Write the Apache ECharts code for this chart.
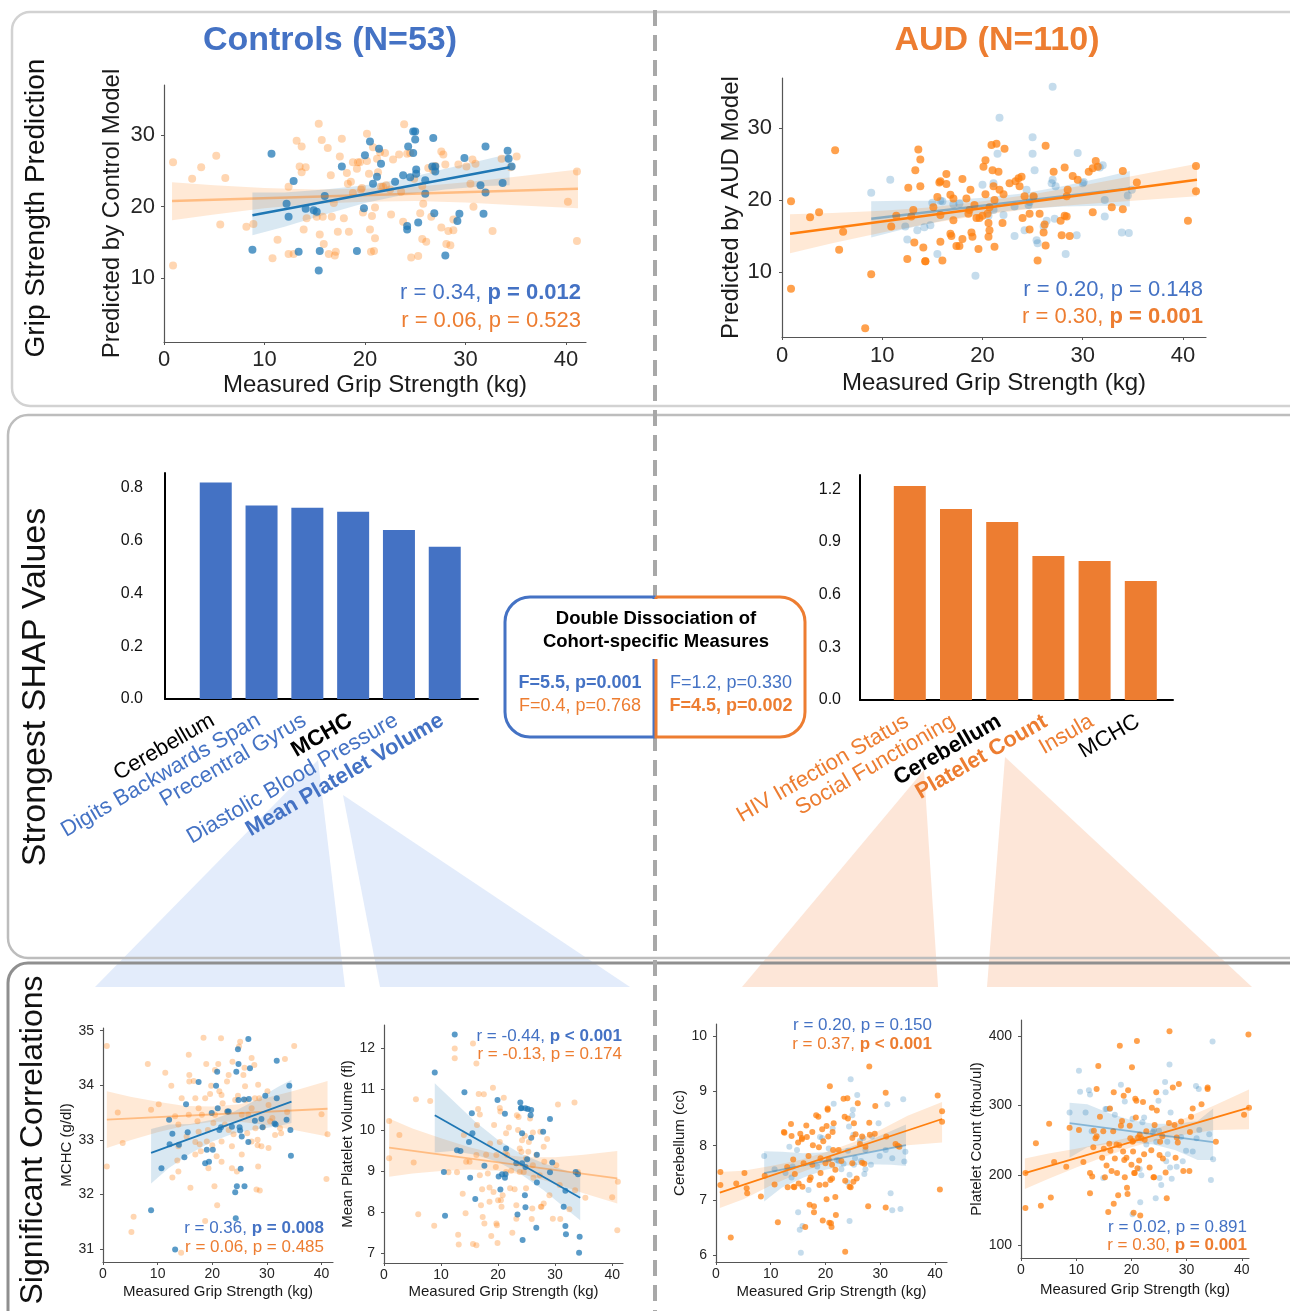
<!DOCTYPE html>
<html><head><meta charset="utf-8">
<script src="https://cdn.jsdelivr.net/npm/echarts@6/dist/echarts.min.js"></script>
<style>html,body{margin:0;padding:0;background:#fff}#c{width:1290px;height:1311px}</style>
</head><body><div id="c"></div>
<script>
// ---------------- DATA ----------------
const gripTicks = [0, 10, 20, 30, 40];
const predTicks = [10, 20, 30];
const mchcTicks = [31, 32, 33, 34, 35];
const mpvTicks = [7, 8, 9, 10, 11, 12];
const cerebTicks = [6, 7, 8, 9, 10];
const pltTicks = [100, 200, 300, 400];
const shapCtrlTicks = [0, 0.2, 0.4, 0.6, 0.8];
const shapAudTicks = [0, 0.3, 0.6, 0.9, 1.2];

// Top row: predicted grip strength
const ctrlModelCtrl = [[10.7,27.4],[8.8,14.0],[12.2,20.4],[12.4,18.6],[12.9,23.6],[13.4,13.7],[14.1,19.7],[14.9,19.5],[15.2,19.3],[15.5,13.8],[15.4,11.1],[16.0,21.5],[17.7,25.6],[19.2,13.8],[19.9,19.8],[20.0,27.2],[20.5,29.1],[20.8,23.2],[21.2,24.2],[21.4,28.1],[21.6,26.0],[23.0,23.5],[23.8,24.4],[24.3,28.4],[24.5,24.1],[24.8,27.5],[24.8,30.5],[25.0,30.5],[25.0,29.4],[25.1,25.2],[25.1,24.6],[25.3,17.8],[24.2,17.3],[24.2,16.8],[26.0,21.8],[26.0,23.7],[26.7,25.6],[26.8,29.6],[26.9,19.1],[27.0,24.9],[28.0,13.2],[29.2,18.0],[29.4,19.0],[29.9,26.8],[31.5,23.0],[31.8,19.0],[32.0,22.0],[32.0,28.4],[33.7,23.3],[34.2,27.8],[34.3,26.7],[34.6,25.6],[27.0,25.6]];
const ctrlModelAud = [[0.9,26.2],[0.9,11.8],[2.8,23.9],[3.7,25.5],[5.2,27.1],[6.1,24.0],[5.6,17.5],[8.2,17.2],[8.9,17.6],[10.8,12.8],[11.3,15.4],[12.4,13.4],[12.9,13.4],[12.4,22.8],[13.2,29.2],[13.7,28.4],[13.5,25.6],[13.7,24.8],[14.1,25.5],[13.9,16.8],[14.2,18.4],[15.4,31.6],[15.7,29.3],[15.5,16.1],[15.8,18.6],[15.9,14.8],[16.3,28.2],[16.4,13.4],[16.6,24.4],[16.7,18.6],[17.0,13.2],[17.1,13.7],[17.3,16.5],[17.5,27.0],[17.7,29.5],[17.9,18.4],[18.3,23.2],[18.4,16.5],[18.6,23.5],[18.8,26.2],[19.2,25.3],[19.3,26.2],[19.5,26.2],[19.6,22.4],[19.7,22.6],[19.8,19.2],[20.2,30.2],[20.2,26.4],[20.4,24.6],[20.5,16.8],[20.6,13.7],[20.7,18.7],[20.8,28.3],[20.9,13.8],[21.0,19.9],[21.0,15.6],[21.2,26.7],[21.3,24.8],[21.5,27.6],[21.6,22.8],[21.8,22.8],[22.0,27.5],[22.1,23.0],[22.6,18.9],[23.4,27.3],[23.6,22.1],[23.9,31.5],[24.2,27.4],[23.8,17.9],[24.6,12.9],[24.9,23.9],[25.3,13.1],[25.5,19.1],[25.7,22.9],[25.8,20.4],[25.7,15.5],[26.1,15.1],[26.3,25.4],[26.8,25.1],[27.0,25.7],[27.6,27.7],[27.8,27.3],[28.0,25.9],[27.6,17.1],[28.1,14.8],[28.3,16.6],[28.5,14.6],[28.8,16.7],[29.3,25.9],[30.5,23.2],[30.7,26.6],[30.8,20.0],[31.0,26.0],[32.7,16.6],[33.6,26.7],[35.1,27.0],[40.2,20.7],[41.1,24.9],[41.1,15.2],[34.5,25.5],[16.9,20.5],[18.8,21.9],[22.8,26.6],[24.5,27.5],[26.6,18.6],[28.8,18.2],[30.1,25.6],[15.2,18.6],[18.2,24.7],[22.5,22.4]];
const audModelCtrl = [[8.9,21.0],[10.8,22.8],[12.3,16.3],[12.5,14.5],[13.5,15.8],[14.2,16.2],[15.0,19.6],[15.5,12.5],[15.8,19.9],[16.0,19.8],[17.7,19.5],[20.0,22.1],[21.1,22.3],[21.5,26.4],[21.7,31.4],[21.1,18.6],[22.1,17.9],[23.2,15.0],[24.2,15.8],[24.4,21.4],[24.6,19.3],[24.7,19.7],[25.1,20.4],[25.0,26.4],[25.0,28.7],[25.2,24.1],[25.4,14.4],[25.5,14.0],[26.4,17.1],[26.9,22.3],[27.0,22.8],[27.0,35.7],[27.2,17.4],[28.3,12.5],[29.4,15.1],[29.5,26.5],[30.1,22.5],[31.7,24.5],[32.0,24.8],[32.2,20.0],[32.2,17.7],[33.9,15.5],[34.5,20.6],[34.6,15.4],[34.9,21.4],[19.3,9.5],[23.2,19.1],[26.1,16.3],[17.1,19.4],[14.8,16.5],[20.6,17.8],[27.3,21.9],[30.0,22.3]];
const audModelAud = [[0.9,19.8],[0.9,7.7],[2.8,17.6],[3.7,18.3],[5.3,26.9],[5.7,13.1],[6.1,15.6],[8.3,2.2],[8.9,9.7],[10.9,16.3],[11.4,17.8],[12.5,11.8],[12.6,21.7],[12.9,17.7],[13.2,14.1],[13.3,24.1],[13.6,27.0],[13.8,25.6],[13.8,21.9],[14.1,13.4],[14.3,11.5],[14.3,11.5],[15.1,19.0],[15.5,20.4],[15.7,22.4],[15.8,22.6],[15.8,17.9],[15.8,14.2],[16.0,11.6],[16.4,22.2],[16.4,23.6],[16.8,20.7],[16.8,15.3],[16.9,15.0],[17.1,20.2],[17.4,13.6],[17.7,13.6],[18.0,14.6],[18.0,22.9],[18.4,20.2],[18.6,18.1],[18.8,21.4],[18.9,15.5],[19.0,14.9],[19.2,19.3],[19.4,17.5],[19.6,13.2],[19.7,17.5],[20.0,17.8],[20.1,24.6],[20.3,25.5],[20.3,20.8],[20.5,18.1],[20.6,14.9],[20.6,16.8],[20.7,19.0],[20.9,27.6],[21.0,24.1],[21.1,21.9],[21.2,20.0],[21.2,13.5],[21.4,27.8],[21.6,23.9],[21.7,21.4],[22.0,16.8],[22.1,20.8],[22.2,27.1],[22.7,22.3],[23.3,22.6],[23.6,23.0],[23.7,21.9],[23.9,23.2],[24.0,17.5],[24.2,20.5],[24.7,15.9],[24.7,18.1],[25.5,11.6],[25.7,18.1],[26.1,15.5],[26.2,16.6],[26.3,27.5],[26.3,13.7],[27.1,23.9],[27.8,17.1],[27.9,15.1],[28.2,24.5],[28.4,17.7],[28.5,21.4],[28.7,15.0],[29.0,23.3],[29.5,22.8],[30.6,23.9],[31.0,18.3],[31.0,24.4],[31.3,25.4],[32.9,19.0],[34.0,18.7],[34.0,24.0],[35.4,22.4],[40.5,17.1],[41.3,24.7],[41.3,21.2],[28.2,17.8],[28.4,20.5],[20.7,15.8],[18.7,18.6],[25.1,20.5],[13.1,18.6],[17.1,17.2],[31.5,24.6]];
// regression fits [x, y] end points and confidence bands [x, low, high]
const ctrlModelCtrlFit = [[8.8,18.8],[34.4,25.5]];
const ctrlModelAudFit = [[0.8,20.8],[41.2,22.5]];
const ctrlModelCtrlBand = [[8.8,16.0,22.0],[12,17.2,22.0],[16,18.9,22.4],[20,20.5,23.0],[24,21.7,23.9],[28,22.4,25.3],[32,22.9,26.6],[34.4,23.0,27.4]];
const ctrlModelAudBand = [[0.8,18.1,23.4],[5,18.9,23.0],[10,19.8,22.6],[15,20.4,22.4],[20,20.7,22.5],[25,20.8,22.8],[30,20.6,23.4],[35,20.2,24.2],[41.2,19.8,25.2]];
const audModelAudFit = [[0.8,15.3],[41.4,22.8]];
const audModelCtrlFit = [[8.9,17.4],[34.7,21.6]];
const audModelAudBand = [[0.8,12.6,18.0],[5,14.0,18.2],[10,15.5,18.5],[15,16.8,19.0],[20,17.9,19.8],[25,18.8,20.8],[30,19.4,22.0],[35,19.9,23.3],[41.4,20.5,25.0]];
const audModelCtrlBand = [[8.9,14.8,19.8],[12,15.9,19.9],[16,17.1,19.9],[20,18.1,20.3],[24,18.7,20.9],[28,19.1,21.9],[32,19.2,23.1],[34.7,19.1,24.0]];

// Middle row: SHAP values
const shapCtrlLabels = ['Cerebellum', 'Digits Backwards Span', 'Precentral Gyrus', 'MCHC', 'Diastolic Blood Pressure', 'Mean Platelet Volume'];
const shapCtrlValues = [0.821, 0.734, 0.725, 0.710, 0.641, 0.577];
const shapAudLabels = ['HIV Infection Status', 'Social Functioning', 'Cerebellum', 'Platelet Count', 'Insula', 'MCHC'];
const shapAudValues = [1.219, 1.088, 1.014, 0.820, 0.792, 0.678];

// Bottom row: significant correlations
const mchcCtrl = [[8.8,31.71],[10.7,32.48],[12.1,33.37],[12.7,33.11],[12.2,32.92],[13.9,32.91],[14.9,32.68],[15.2,33.65],[15.5,33.14],[17.5,34.06],[18.7,32.57],[19.4,32.60],[20.1,32.82],[20.7,33.99],[20.9,34.25],[21.0,33.58],[21.3,33.18],[21.6,33.23],[23.0,33.52],[23.6,33.24],[24.2,32.04],[24.5,32.15],[24.3,31.56],[24.4,34.25],[24.7,34.66],[24.8,34.39],[24.8,33.73],[25.0,33.23],[25.1,33.17],[25.2,32.47],[25.4,33.06],[25.9,32.15],[26.6,34.85],[26.6,32.96],[26.7,33.75],[26.9,34.31],[27.8,33.35],[29.0,33.38],[29.2,33.23],[29.7,33.81],[31.8,34.45],[31.8,33.76],[31.4,33.30],[31.6,33.28],[33.6,33.37],[34.1,33.99],[34.3,33.18],[34.4,32.71],[13.2,30.99],[25.8,33.74],[22.8,33.52],[19.9,33.49],[19.0,32.82]];
const mchcAud = [[0.7,34.72],[0.7,32.51],[2.7,33.50],[3.6,32.94],[5.2,31.31],[5.6,31.59],[8.2,34.39],[8.8,33.55],[10.2,33.65],[11.4,34.23],[12.5,33.99],[12.7,32.31],[13.2,33.43],[13.6,32.62],[13.8,32.88],[14.3,30.93],[13.8,33.28],[15.3,33.06],[15.7,34.56],[15.8,34.19],[15.8,34.07],[16.0,32.12],[16.6,34.08],[16.9,32.73],[16.9,32.96],[17.3,33.34],[17.5,33.15],[17.7,32.92],[17.9,32.79],[18.4,34.87],[18.7,33.76],[18.9,34.39],[19.2,33.18],[19.6,33.84],[19.8,33.99],[20.0,32.90],[20.2,33.31],[20.4,32.15],[20.5,34.28],[20.8,32.70],[20.9,31.80],[21.1,34.39],[21.3,33.89],[21.6,34.86],[21.7,33.82],[21.9,33.67],[22.3,33.28],[22.7,33.52],[23.0,33.18],[23.6,32.88],[23.7,34.43],[23.9,33.10],[24.2,33.73],[24.7,33.81],[24.9,34.71],[25.1,34.80],[25.4,33.46],[25.7,34.19],[26.0,33.98],[25.9,34.32],[26.1,33.73],[26.4,33.12],[26.6,33.46],[27.2,34.50],[27.7,34.37],[27.9,33.21],[28.1,32.09],[28.3,33.00],[28.3,32.90],[28.4,32.51],[28.6,33.76],[28.7,32.07],[29.0,32.88],[29.3,33.23],[30.1,33.89],[30.6,33.34],[31.0,33.40],[32.4,33.21],[32.6,33.12],[33.3,34.48],[33.7,33.51],[35.0,34.72],[40.0,33.47],[40.9,32.28],[41.1,33.10],[20.5,33.46],[17.5,33.58],[19.0,32.97],[22.7,34.07],[27.2,33.58],[30.3,33.64],[21.7,32.60],[14.4,33.76],[25.4,32.73],[28.4,34.01],[16.9,33.76],[24.5,32.42],[13.8,32.42],[19.3,32.48],[23.6,32.48],[27.2,32.97],[30.3,32.85],[21.7,32.97],[18.1,33.46],[27.8,33.76],[31.5,33.09],[23.0,34.19],[15.7,33.46],[18.7,31.51]];
const mchcCtrlFit = [[8.8,32.76],[34.5,33.70]];
const mchcAudFit = [[0.7,33.37],[41.1,33.57]];
const mchcCtrlBand = [[8.8,32.2,33.2],[12,32.48,33.28],[16,32.75,33.29],[20,32.97,33.37],[24,33.12,33.52],[28,33.19,33.73],[32,33.25,33.97],[34.5,33.31,34.1]];
const mchcAudBand = [[0.7,32.85,33.89],[5,32.99,33.79],[10,33.14,33.70],[15,33.26,33.62],[20,33.33,33.61],[25,33.33,33.65],[30,33.27,33.77],[35,33.18,33.9],[41.1,33.06,34.08]];

const mpvCtrl = [[12.4,12.34],[8.9,11.41],[10.5,8.99],[10.7,7.92],[12.8,9.52],[13.4,9.50],[14.1,10.93],[14.9,9.72],[15.1,8.85],[15.4,10.42],[15.5,9.93],[16.0,8.33],[17.6,9.14],[19.9,10.74],[20.1,8.88],[20.4,8.56],[20.7,8.93],[21.2,10.41],[21.3,8.93],[21.2,8.85],[23.9,10.68],[24.1,10.55],[24.2,9.93],[24.0,10.54],[24.2,9.20],[24.7,8.42],[24.8,8.13],[24.8,9.11],[25.1,9.30],[25.2,10.52],[25.7,10.37],[25.8,9.82],[24.8,10.54],[26.8,9.41],[26.8,8.73],[26.7,7.63],[27.9,9.97],[29.1,10.28],[29.5,9.22],[29.1,8.98],[31.5,8.14],[31.8,8.53],[31.8,7.67],[31.9,7.47],[33.6,8.99],[34.0,8.93],[34.3,7.41],[34.2,7.02],[23.4,7.95],[24.3,7.33],[25.8,10.50],[21.4,9.56],[23.2,9.20]];
const mpvAud = [[0.9,10.23],[0.9,9.32],[2.7,9.89],[5.2,9.22],[5.6,10.76],[6.0,7.96],[8.1,10.72],[8.8,7.68],[11.3,8.98],[12.8,8.98],[13.0,7.46],[13.1,7.22],[12.4,12.0],[12.4,11.76],[13.8,8.46],[14.0,9.89],[14.3,7.98],[15.0,9.24],[15.6,7.23],[16.2,7.20],[16.2,9.40],[16.3,10.13],[16.5,10.52],[16.6,10.89],[16.8,10.39],[17.0,8.18],[17.2,8.57],[17.5,10.88],[17.3,7.89],[17.6,7.73],[17.9,9.41],[18.2,8.95],[18.5,8.61],[18.6,9.68],[18.8,7.43],[19.1,11.04],[19.2,8.50],[19.3,10.13],[19.6,9.11],[19.7,7.73],[19.8,7.69],[19.9,7.26],[20.0,8.30],[20.3,10.55],[20.4,10.46],[20.5,8.30],[20.6,8.14],[20.8,8.42],[21.0,10.80],[21.3,9.46],[21.4,9.93],[21.6,9.40],[21.9,10.07],[22.3,9.02],[22.1,8.59],[22.5,7.51],[22.9,8.57],[23.2,8.18],[23.3,10.37],[23.5,10.01],[23.6,10.33],[23.8,8.99],[24.1,9.48],[24.2,9.76],[24.5,8.99],[24.7,9.87],[24.9,9.32],[25.3,9.48],[25.4,9.72],[25.6,10.29],[25.9,7.84],[26.0,8.10],[26.1,9.95],[26.2,8.85],[27.4,9.97],[27.5,8.14],[27.6,8.14],[28.0,8.22],[28.0,9.60],[28.1,9.24],[28.6,9.79],[29.6,7.85],[30.5,10.63],[30.8,8.67],[30.9,7.84],[32.5,8.08],[33.4,10.68],[33.5,8.54],[34.0,8.99],[35.3,8.36],[40.0,8.37],[41.0,8.75],[40.9,7.57],[16.2,11.63],[15.6,12.12],[19.7,9.40],[23.8,9.56],[26.7,9.40],[21.4,8.99],[23.2,7.85],[18.5,8.26],[26.1,9.15],[29.0,8.42],[14.4,9.24],[16.8,8.91],[24.9,8.59],[27.3,8.91],[30.2,9.15],[20.3,9.72]];
const mpvCtrlFit = [[8.9,10.37],[34.4,8.36]];
const mpvAudFit = [[0.9,9.58],[40.9,8.83]];
const mpvCtrlBand = [[8.9,9.46,11.15],[12,9.5,10.74],[16,9.41,10.21],[20,9.23,9.77],[24,8.93,9.43],[28,8.54,9.2],[32,8.08,9.02],[34.4,7.81,8.91]];
const mpvAudBand = [[0.9,8.87,10.29],[5,8.95,10.05],[10,9.01,9.81],[15,9.05,9.59],[20,9.02,9.42],[25,8.91,9.35],[30,8.71,9.35],[35,8.47,9.41],[40.9,8.22,9.5]];

const cerebCtrl = [[8.8,7.81],[10.7,7.57],[12.7,7.50],[13.4,7.98],[13.8,7.42],[14.0,7.62],[15.0,6.78],[15.3,6.46],[15.8,6.53],[16.9,7.19],[19.0,8.16],[19.4,8.14],[20.6,7.95],[21.3,8.32],[21.5,8.77],[22.1,7.74],[22.4,7.72],[22.9,7.57],[23.3,7.67],[24.0,7.33],[24.1,7.91],[24.3,8.35],[24.4,6.62],[24.4,7.47],[24.6,9.22],[24.9,8.56],[25.0,8.66],[25.1,8.20],[25.2,7.65],[25.4,7.77],[25.8,8.93],[26.3,8.09],[26.5,7.72],[26.9,8.14],[27.1,7.48],[27.3,7.57],[28.3,7.65],[29.7,8.41],[29.9,7.81],[31.3,8.76],[31.9,7.13],[32.2,7.77],[32.2,6.82],[33.7,6.84],[34.2,8.85],[34.4,7.71],[34.6,7.89],[14.8,7.92],[15.5,6.04],[18.5,7.62],[27.3,7.92],[31.0,7.92],[28.5,8.17]];
const cerebAud = [[0.8,7.52],[0.8,7.28],[2.7,6.32],[3.7,7.31],[5.2,7.50],[5.7,7.13],[5.6,7.22],[8.2,7.07],[8.9,7.45],[10.7,7.29],[11.3,6.60],[12.4,8.25],[12.5,8.24],[13.0,7.61],[13.1,7.24],[13.7,8.40],[13.8,8.18],[14.1,7.75],[14.3,7.24],[14.4,7.48],[15.0,8.06],[15.1,7.31],[15.4,8.22],[15.7,8.14],[15.7,8.12],[15.8,7.25],[16.0,7.68],[16.3,6.51],[16.5,8.37],[16.6,8.16],[16.9,7.81],[17.1,7.37],[17.1,6.92],[17.3,7.42],[17.6,8.25],[17.7,8.01],[17.9,6.78],[17.9,6.89],[18.3,8.56],[18.7,8.53],[18.8,7.97],[18.9,7.28],[19.1,7.77],[19.1,7.50],[19.4,8.30],[19.5,6.63],[19.6,8.08],[20.0,7.29],[20.2,8.36],[20.2,7.02],[20.4,8.66],[20.4,8.68],[20.5,8.17],[20.6,7.75],[20.7,6.59],[20.8,9.09],[20.9,7.37],[21.0,6.58],[21.1,6.51],[21.2,7.65],[21.2,7.40],[21.3,8.25],[21.4,7.92],[21.5,8.41],[21.8,7.06],[21.9,6.73],[22.9,7.72],[23.3,8.86],[23.5,8.53],[23.6,7.36],[24.0,8.87],[24.1,8.50],[24.4,7.25],[24.6,7.24],[24.9,8.14],[25.1,7.34],[25.2,8.41],[25.5,8.21],[25.7,7.40],[25.9,8.78],[26.3,8.03],[26.7,7.69],[27.1,7.67],[27.8,6.89],[28.0,8.42],[28.1,8.20],[29.0,8.22],[29.1,8.73],[31.0,8.97],[31.0,6.87],[31.1,8.17],[32.8,8.03],[33.2,8.00],[33.5,7.98],[40.9,7.20],[40.5,8.92],[41.3,8.63],[41.3,8.44],[24.9,7.68],[22.4,7.92],[20.0,7.68],[17.6,7.65],[23.6,6.06],[28.0,9.45],[26.7,8.17],[27.3,7.98],[14.2,7.25],[21.8,7.56]];
const cerebAudFit = [[0.7,7.14],[41.3,8.49]];
const cerebCtrlFit = [[8.8,7.50],[34.7,8.01]];
const cerebAudBand = [[0.7,6.86,7.52],[5,7.02,7.54],[10,7.27,7.63],[15,7.49,7.73],[20,7.68,7.88],[25,7.82,8.06],[30,7.93,8.29],[35,8.01,8.55],[41.3,8.06,8.8]];
const cerebCtrlBand = [[8.8,6.98,7.9],[12,7.23,7.89],[16,7.42,7.86],[20,7.56,7.88],[24,7.64,7.96],[28,7.66,8.1],[32,7.65,8.27],[34.7,7.63,8.39]];

const pltCtrl = [[8.8,290],[10.5,350],[10.7,320],[11.7,290],[12.3,322],[12.5,316],[12.8,263],[14.9,196],[15.3,295],[15.5,295],[16.1,295],[18.1,330],[18.8,306],[20.2,281],[20.2,144],[21.5,209],[21.6,161],[21.8,200],[22.0,276],[22.3,283],[24.1,265],[24.4,167],[24.5,248],[24.9,307],[25.0,264],[25.1,196],[25.4,186],[26.1,334],[26.2,319],[26.5,248],[26.6,230],[26.9,359],[27.0,211],[27.1,290],[27.3,195],[28.2,212],[29.0,255],[29.3,220],[29.9,235],[31.7,328],[31.8,253],[32.2,324],[32.3,265],[34.1,259],[34.4,193],[34.7,392],[34.8,223],[32.0,431],[23.9,262],[22.7,244],[26.3,220],[31.1,234],[17.0,287]];
const pltAud = [[0.8,203],[0.8,153],[2.7,246],[3.6,156],[5.1,274],[5.4,168],[6.0,219],[8.2,212],[8.8,268],[10.5,265],[11.3,219],[12.5,174],[12.5,203],[12.9,198],[13.1,240],[13.2,264],[13.5,253],[13.7,324],[13.7,256],[14.0,357],[14.3,284],[14.7,225],[14.9,263],[15.0,238],[15.2,197],[15.5,214],[15.8,147],[16.0,245],[16.2,235],[16.4,206],[16.7,263],[16.8,159],[16.8,319],[17.0,224],[17.3,244],[17.4,203],[17.6,171],[17.8,243],[17.9,386],[18.1,271],[18.3,278],[18.5,234],[18.6,314],[18.7,222],[18.8,197],[19.1,225],[19.2,182],[19.3,173],[19.4,322],[19.7,271],[19.8,253],[20.0,215],[20.1,355],[20.2,248],[20.3,249],[20.4,146],[20.5,203],[20.6,203],[20.7,310],[20.8,283],[20.9,307],[21.0,393],[21.1,210],[21.2,254],[21.4,221],[21.5,258],[21.6,142],[21.8,253],[22.1,305],[22.3,230],[22.4,251],[23.3,211],[23.6,236],[23.7,297],[24.0,197],[24.1,197],[24.2,272],[24.5,319],[24.6,293],[25.2,248],[25.6,256],[26.2,204],[26.4,167],[26.9,407],[26.8,275],[27.5,326],[27.8,272],[28.0,225],[28.2,254],[28.4,247],[28.6,331],[29.0,277],[29.4,206],[30.5,206],[30.6,262],[30.8,284],[31.1,296],[32.7,302],[33.8,324],[33.8,326],[35.3,248],[40.4,287],[41.2,402],[41.3,297],[25.1,229],[20.3,234],[16.1,296],[22.7,263],[25.7,224]];
const pltAudFit = [[0.7,202.9],[41.3,297.0]];
const pltCtrlFit = [[8.8,274.7],[34.8,247.4]];
const pltAudBand = [[0.7,180,224],[5,195,231],[10,211,238],[15,226,246],[20,240,255],[25,251,268],[30,259,283],[35,265,300],[41.3,266,323]];
const pltCtrlBand = [[8.8,225,304],[12,240,302],[16,245,289],[20,247,279],[24,244,274],[28,236,274],[32,222,278],[34.8,222,296]];

// ---------------- STYLE ----------------
const FONT = "'Liberation Sans', Arial, Helvetica, sans-serif";
const TBLUE = '#4472C4', TORANGE = '#ED7D31';
const C = {
  blueFull: 'rgba(31,119,180,0.92)', orangeFull: 'rgba(255,127,14,0.92)',
  blueLight: 'rgba(31,119,180,0.32)', orangeLight: 'rgba(255,127,14,0.40)',
  blueBand: 'rgba(31,119,180,0.17)', orangeBand: 'rgba(255,127,14,0.17)',
  blueLineLight: 'rgba(31,119,180,0.45)', orangeLineLight: 'rgba(255,127,14,0.42)',
  blueLine: '#1f77b4', orangeLine: '#ff7f0e'
};

function scatterX(gi, max, fs, margin, nfs, gap) {
  return { type: 'value', gridIndex: gi, min: 0, max: max,
    name: 'Measured Grip Strength (kg)', nameLocation: 'middle', nameGap: gap,
    nameTextStyle: { fontSize: nfs, color: '#1a1a1a', fontFamily: FONT },
    axisLine: { show: true, onZero: false, lineStyle: { color: '#555', width: 1.2 } },
    axisTick: { show: true, length: 3, customValues: gripTicks, lineStyle: { color: '#555' } },
    axisLabel: { customValues: gripTicks, fontSize: fs, color: '#262626', margin: margin, fontFamily: FONT },
    splitLine: { show: false } };
}
function scatterY(gi, min, max, ticks, name, fs, margin, nfs, gap) {
  return { type: 'value', gridIndex: gi, min: min, max: max,
    name: name, nameLocation: 'middle', nameGap: gap,
    nameTextStyle: { fontSize: nfs, color: '#1a1a1a', fontFamily: FONT },
    axisLine: { show: true, onZero: false, lineStyle: { color: '#555', width: 1.2 } },
    axisTick: { show: true, length: 3, customValues: ticks, lineStyle: { color: '#555' } },
    axisLabel: { customValues: ticks, fontSize: fs, color: '#262626', margin: margin, fontFamily: FONT },
    splitLine: { show: false } };
}
function bandSeries(ai, band, color) {
  return { type: 'custom', xAxisIndex: ai, yAxisIndex: ai, silent: true,
    data: band, encode: { x: 0, y: 1 },
    renderItem: function (params, api) {
      if (params.dataIndex !== 0) return null;
      const up = band.map(r => api.coord([r[0], r[2]]));
      const lo = band.slice().reverse().map(r => api.coord([r[0], r[1]]));
      return { type: 'polygon', shape: { points: up.concat(lo) }, style: { fill: color } };
    } };
}
function pts(ai, data, color, size) {
  return { type: 'scatter', xAxisIndex: ai, yAxisIndex: ai, data: data, symbolSize: size,
    itemStyle: { color: color }, silent: true };
}
function fitLine(ai, data, color, w) {
  return { type: 'line', xAxisIndex: ai, yAxisIndex: ai, data: data, showSymbol: false,
    lineStyle: { color: color, width: w }, silent: true };
}
function plot(ai, back, front, size, lw) {
  return [
    pts(ai, back.pts, back.pc, size), bandSeries(ai, back.band, back.bc), fitLine(ai, back.fit, back.lc, lw),
    pts(ai, front.pts, front.pc, size), bandSeries(ai, front.band, front.bc), fitLine(ai, front.fit, front.lc, lw)
  ];
}
const ctrlBack = (p, f, b) => ({ pts: p, fit: f, band: b, pc: C.blueLight, bc: C.blueBand, lc: C.blueLineLight });
const ctrlFront = (p, f, b) => ({ pts: p, fit: f, band: b, pc: C.blueFull, bc: C.blueBand, lc: C.blueLine });
const audBack = (p, f, b) => ({ pts: p, fit: f, band: b, pc: C.orangeLight, bc: C.orangeBand, lc: C.orangeLineLight });
const audFront = (p, f, b) => ({ pts: p, fit: f, band: b, pc: C.orangeFull, bc: C.orangeBand, lc: C.orangeLine });

function stat(xr, y, segs, size) {
  const rich = {}; let t = '';
  segs.forEach((s, i) => {
    rich['s' + i] = { fill: s[1], fontSize: size, fontFamily: FONT, fontWeight: s[2] ? 'bold' : 'normal' };
    t += '{s' + i + '|' + s[0] + '}';
  });
  return { type: 'text', x: xr, y: y, z: 20, silent: true,
    style: { text: t, rich: rich, align: 'right', verticalAlign: 'middle', font: size + 'px ' + FONT } };
}
function label(x, y, text, size, color, bold, rot) {
  return { type: 'text', x: x, y: y, z: 20, rotation: rot || 0, silent: true,
    style: { text: text, fill: color, align: 'center', verticalAlign: 'middle',
      font: (bold ? 'bold ' : '') + size + 'px ' + FONT } };
}

// category label axes (bar charts)
const ctrlLabelRich = {
  s0: { color: '#000', fontWeight: 'normal' }, s1: { color: TBLUE }, s2: { color: TBLUE },
  s3: { color: '#000', fontWeight: 'bold' }, s4: { color: TBLUE }, s5: { color: TBLUE, fontWeight: 'bold' } };
const audLabelRich = {
  s0: { color: TORANGE }, s1: { color: TORANGE }, s2: { color: '#000', fontWeight: 'bold' },
  s3: { color: TORANGE, fontWeight: 'bold' }, s4: { color: TORANGE }, s5: { color: '#000' } };
Object.values(ctrlLabelRich).concat(Object.values(audLabelRich)).forEach(r => { r.fontSize = 22; r.fontFamily = FONT; });

function barFrameX(gi, min, max) {
  return { type: 'value', gridIndex: gi, min: min, max: max,
    axisLine: { show: true, onZero: false, lineStyle: { color: '#000', width: 2 } },
    axisTick: { show: false }, axisLabel: { show: false }, splitLine: { show: false } };
}
function barFrameY(gi, max, ticks, margin) {
  return { type: 'value', gridIndex: gi, min: 0, max: max,
    axisLine: { show: true, onZero: false, lineStyle: { color: '#000', width: 2 } },
    axisTick: { show: false }, splitLine: { show: false },
    axisLabel: { customValues: ticks, fontSize: 16, color: '#111', margin: margin, fontFamily: FONT,
      formatter: v => v.toFixed(1) } };
}
function barLabelX(gi, labels, rich) {
  return { type: 'category', gridIndex: gi, data: labels,
    axisLine: { show: false }, axisTick: { show: false }, splitLine: { show: false },
    axisLabel: { interval: 0, rotate: 30, margin: 20, fontSize: 22, fontFamily: FONT,
      formatter: (v, i) => '{s' + i + '|' + v + '}', rich: rich } };
}
const hiddenY = gi => ({ type: 'value', gridIndex: gi, show: false, min: 0, max: 1 });

const option = {
  animation: false,
  backgroundColor: '#fff',
  grid: [
    { left: 164, top: 85, width: 422, height: 257 },
    { left: 782, top: 78, width: 424, height: 259 },
    { left: 165, top: 473, width: 313, height: 226 },
    { left: 190, top: 473, width: 275, height: 226 },
    { left: 860, top: 475, width: 313, height: 225 },
    { left: 884, top: 475, width: 277, height: 225 },
    { left: 103, top: 1028, width: 230, height: 234 },
    { left: 384, top: 1025, width: 239, height: 238 },
    { left: 716, top: 1024, width: 231, height: 238 },
    { left: 1021, top: 1020, width: 228, height: 238 }
  ],
  xAxis: [
    scatterX(0, 42, 22, 7, 24, 31),
    scatterX(1, 42.3, 22, 8, 24, 34),
    barFrameX(2, -1.108, 5.726),
    barLabelX(3, shapCtrlLabels, ctrlLabelRich),
    barFrameX(4, -1.078, 5.697),
    barLabelX(5, shapAudLabels, audLabelRich),
    scatterX(6, 42.1, 14, 5, 15, 22),
    scatterX(7, 41.9, 14, 5, 15, 21),
    scatterX(8, 42.2, 14, 5, 15, 22),
    scatterX(9, 41.3, 14, 5, 15, 24)
  ],
  yAxis: [
    scatterY(0, 1.1, 37, predTicks, 'Predicted by Control Model', 22, 9, 24, 40),
    scatterY(1, 1.0, 36.9, predTicks, 'Predicted by AUD Model', 22, 10, 24, 38),
    barFrameY(2, 0.857, shapCtrlTicks, 22),
    hiddenY(3),
    barFrameY(4, 1.281, shapAudTicks, 19),
    hiddenY(5),
    scatterY(6, 30.76, 35.05, mchcTicks, 'MCHC (g/dl)', 14, 9, 15, 23),
    scatterY(7, 6.77, 12.57, mpvTicks, 'Mean Platelet Volume (fl)', 14, 9, 15, 23),
    scatterY(8, 5.87, 10.23, cerebTicks, 'Cerebellum (cc)', 14, 9, 15, 25),
    scatterY(9, 81, 423, pltTicks, 'Platelet Count (thou/ul)', 14, 9, 15, 31)
  ],
  series: [].concat(
    plot(0, audBack(ctrlModelAud, ctrlModelAudFit, ctrlModelAudBand), ctrlFront(ctrlModelCtrl, ctrlModelCtrlFit, ctrlModelCtrlBand), 8, 2.5),
    plot(1, ctrlBack(audModelCtrl, audModelCtrlFit, audModelCtrlBand), audFront(audModelAud, audModelAudFit, audModelAudBand), 8, 2.5),
    [
      { type: 'bar', xAxisIndex: 2, yAxisIndex: 2, barWidth: 32, silent: true,
        data: shapCtrlValues.map((v, i) => [i, v]), itemStyle: { color: TBLUE } },
      { type: 'bar', xAxisIndex: 4, yAxisIndex: 4, barWidth: 32, silent: true,
        data: shapAudValues.map((v, i) => [i, v]), itemStyle: { color: TORANGE } }
    ],
    plot(6, audBack(mchcAud, mchcAudFit, mchcAudBand), ctrlFront(mchcCtrl, mchcCtrlFit, mchcCtrlBand), 6, 1.8),
    plot(7, audBack(mpvAud, mpvAudFit, mpvAudBand), ctrlFront(mpvCtrl, mpvCtrlFit, mpvCtrlBand), 6, 1.8),
    plot(8, ctrlBack(cerebCtrl, cerebCtrlFit, cerebCtrlBand), audFront(cerebAud, cerebAudFit, cerebAudBand), 6, 1.8),
    plot(9, ctrlBack(pltCtrl, pltCtrlFit, pltCtrlBand), audFront(pltAud, pltAudFit, pltAudBand), 6, 1.8)
  ),
  graphic: { elements: [
    // fan shapes
    { type: 'polygon', z: -3, silent: true, shape: { points: [[318,760],[95,987],[345,987]] }, style: { fill: '#e3ecfb' } },
    { type: 'polygon', z: -3, silent: true, shape: { points: [[343,795],[380,987],[630,987]] }, style: { fill: '#e3ecfb' } },
    { type: 'polygon', z: -3, silent: true, shape: { points: [[924,770],[742,987],[938,987]] }, style: { fill: '#fde6d8' } },
    { type: 'polygon', z: -3, silent: true, shape: { points: [[1005,757],[987,987],[1252,987]] }, style: { fill: '#fde6d8' } },
    // panel borders
    { type: 'rect', z: -1, silent: true, shape: { x: 12, y: 12, width: 1320, height: 394, r: 18 }, style: { fill: null, stroke: '#d2d2d2', lineWidth: 2.5 } },
    { type: 'rect', z: -1, silent: true, shape: { x: 8, y: 415, width: 1320, height: 543, r: 20 }, style: { fill: null, stroke: '#bdbdbd', lineWidth: 2.5 } },
    { type: 'rect', z: -1, silent: true, shape: { x: 8, y: 963, width: 1320, height: 420, r: 20 }, style: { fill: null, stroke: '#8f8f8f', lineWidth: 3 } },
    // divider
    { type: 'line', z: 0, silent: true, shape: { x1: 655, y1: 10, x2: 655, y2: 1311 }, style: { stroke: '#a8a8a8', lineWidth: 4, lineDash: [16, 9] } },
    // center box
    { type: 'rect', z: 5, silent: true, shape: { x: 505, y: 597, width: 149, height: 140, r: [25, 0, 0, 25] }, style: { fill: '#fff', stroke: TBLUE, lineWidth: 3 } },
    { type: 'rect', z: 5, silent: true, shape: { x: 656, y: 597, width: 149, height: 140, r: [0, 25, 25, 0] }, style: { fill: '#fff', stroke: TORANGE, lineWidth: 3 } },
    { type: 'rect', z: 6, silent: true, shape: { x: 650, y: 599, width: 10, height: 60 }, style: { fill: '#fff' } },
    label(656, 619, 'Double Dissociation of', 18.5, '#000', true),
    label(656, 642, 'Cohort-specific Measures', 18.5, '#000', true),
    label(580, 683, 'F=5.5, p=0.001', 18, TBLUE, true),
    label(580, 706, 'F=0.4, p=0.768', 18, TORANGE, false),
    label(731, 683, 'F=1.2, p=0.330', 18, TBLUE, false),
    label(731, 706, 'F=4.5, p=0.002', 18, TORANGE, true),
    // titles
    label(330, 41, 'Controls (N=53)', 34, TBLUE, true),
    label(997, 41, 'AUD (N=110)', 34, TORANGE, true),
    label(36, 208, 'Grip Strength Prediction', 28, '#111', false, Math.PI / 2),
    label(36, 687, 'Strongest SHAP Values', 34, '#111', false, Math.PI / 2),
    label(33, 1140, 'Significant Correlations', 32, '#111', false, Math.PI / 2),
    // statistics
    stat(581, 293, [['r = 0.34, ', TBLUE], ['p = 0.012', TBLUE, true]], 22),
    stat(581, 321, [['r = 0.06, p = 0.523', TORANGE]], 22),
    stat(1203, 290, [['r = 0.20, p = 0.148', TBLUE]], 22),
    stat(1203, 317, [['r = 0.30, ', TORANGE], ['p = 0.001', TORANGE, true]], 22),
    stat(324, 1228, [['r = 0.36, ', TBLUE], ['p = 0.008', TBLUE, true]], 17),
    stat(324, 1247, [['r = 0.06, p = 0.485', TORANGE]], 17),
    stat(622, 1036, [['r = -0.44, ', TBLUE], ['p < 0.001', TBLUE, true]], 17),
    stat(622, 1054, [['r = -0.13, p = 0.174', TORANGE]], 17),
    stat(932, 1025, [['r = 0.20, p = 0.150', TBLUE]], 17),
    stat(932, 1044, [['r = 0.37, ', TORANGE], ['p < 0.001', TORANGE, true]], 17),
    stat(1247, 1227, [['r = 0.02, p = 0.891', TBLUE]], 17),
    stat(1247, 1245, [['r = 0.30, ', TORANGE], ['p = 0.001', TORANGE, true]], 17)
  ] }
};

const chart = echarts.init(document.getElementById('c'), null, { renderer: 'canvas' });
chart.setOption(option);
</script></body></html>
